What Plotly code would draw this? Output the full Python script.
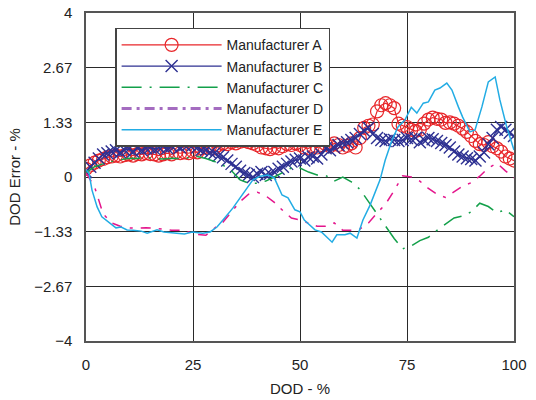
import plotly.graph_objects as go

# ---- data ----
x_ab = list(range(0, 101))
a_vals = [0.2,0.28,0.35,0.4,0.44,0.48,0.5,0.52,0.5,0.53,0.55,0.52,0.56,0.55,0.58,0.56,0.55,0.52,0.55,0.58,
          0.55,0.6,0.58,0.6,0.58,0.62,0.6,0.7,0.72,0.75,0.7,0.78,0.82,0.8,0.85,0.82,0.86,0.88,0.85,0.82,
          0.78,0.72,0.7,0.68,0.72,0.7,0.75,0.8,0.78,0.82,0.78,0.72,0.7,0.75,0.72,0.78,0.8,0.75,0.82,0.78,
          0.72,0.76,0.82,0.72,0.95,1.2,1.25,1.28,1.6,1.75,1.8,1.75,1.68,1.3,1.25,1.22,1.15,1.12,1.15,1.3,
          1.4,1.45,1.42,1.4,1.32,1.33,1.3,1.25,1.18,1.1,1.0,0.88,0.8,0.78,0.85,0.75,0.7,0.62,0.5,0.45,0.4]
b_vals = [0.12,0.25,0.35,0.45,0.55,0.58,0.62,0.65,0.6,0.66,0.68,0.62,0.7,0.65,0.7,0.72,0.68,0.72,0.75,0.7,
          0.75,0.78,0.72,0.78,0.8,0.78,0.72,0.66,0.65,0.6,0.58,0.52,0.48,0.4,0.32,0.25,0.15,0.1,0.05,0.0,
          0.08,0.12,0.05,0.08,0.12,0.2,0.25,0.32,0.38,0.42,0.45,0.4,0.48,0.5,0.45,0.55,0.7,0.65,0.72,0.78,
          0.82,0.85,0.9,0.95,1.05,1.12,1.2,1.05,0.95,0.9,0.88,0.92,0.9,0.88,0.9,0.95,0.92,0.95,0.85,0.9,
          0.95,0.92,0.88,0.83,0.78,0.72,0.62,0.55,0.5,0.46,0.44,0.4,0.5,0.6,0.8,0.95,1.15,1.22,1.15,1.08,1.0]

x_cd = list(range(0, 101, 2))
c_vals = [0.1,0.25,0.32,0.38,0.42,0.46,0.45,0.48,0.45,0.44,0.46,0.45,0.47,0.5,0.45,0.38,0.29,0.15,-0.07,-0.15,
          -0.15,-0.1,0.0,0.12,0.22,0.22,0.12,0.05,0.04,-0.1,0.0,-0.12,-0.3,-0.6,-0.9,-1.2,-1.5,-1.75,-1.68,-1.55,
          -1.47,-1.3,-1.15,-1.0,-0.95,-0.85,-0.64,-0.72,-0.87,-0.8,-0.97]
d_vals = [0.1,-0.24,-0.9,-1.12,-1.2,-1.24,-1.25,-1.24,-1.25,-1.27,-1.3,-1.3,-1.34,-1.4,-1.42,-1.25,-1.1,-0.85,-0.6,-0.42,
          -0.37,-0.46,-0.62,-0.82,-1.0,-1.05,-1.12,-1.2,-1.2,-1.12,-1.3,-1.3,-1.27,-1.12,-0.88,-0.66,-0.33,0.03,0.0,-0.1,
          -0.28,-0.42,-0.5,-0.35,-0.22,-0.14,0.02,0.22,0.34,0.15,-0.02]

x_e = [0,0.7,1.4,2.6,3.7,5.4,7,8.2,9.6,11,12.9,14.3,16.6,18.2,20.6,23,24.8,27.3,29,30.6,
       32,34.3,36,37.6,39,40.7,42.5,44,45.8,47.2,48.8,50,51,53.5,55,57.5,58.6,60.5,61.7,63.3,
       64.7,66.4,67.5,68.7,69.9,71.5,72.9,74.5,76,77.3,78.8,80,81.5,82.7,84.3,85.5,87,88,89.7,90.9,
       92.5,94,95.6,96.7,98.3,100]
e_vals = [0.17,0.1,-0.32,-0.73,-0.97,-1.12,-1.24,-1.22,-1.29,-1.3,-1.32,-1.37,-1.29,-1.34,-1.37,-1.39,-1.34,-1.37,-1.34,-1.22,
          -1.05,-0.76,-0.51,-0.27,-0.07,0.02,0.05,-0.02,-0.44,-0.51,-0.8,-0.85,-1.05,-1.29,-1.34,-1.59,-1.41,-1.41,-1.37,-1.49,
          -1.05,-0.68,-0.39,-0.07,0.41,0.9,1.22,1.39,1.7,1.56,1.8,1.83,2.12,2.17,2.29,2.12,1.71,1.46,1.1,1.15,
          1.71,2.32,2.44,1.88,1.22,0.66]

y_tickvals = [-4, -2.6667, -1.3333, 0, 1.3333, 2.6667, 4]
y_ticktext = ["\u22124", "\u22122.67", "\u22121.33", "0", "1.33", "2.67", "4"]
x_tickvals = [0, 25, 50, 75, 100]

RED = "#e8262a"
NAVY = "#2e3192"
GREEN = "#13a04a"
MAGENTA = "#e4158c"
PURPLE = "#a46cc0"
CYAN = "#22ace4"

fig = go.Figure()
fig.add_trace(go.Scatter(x=x_ab, y=a_vals, mode="lines+markers", name="Manufacturer A",
                         line=dict(color=RED, width=1.2),
                         marker=dict(symbol="circle-open", size=13, color=RED, line=dict(width=1.2))))
fig.add_trace(go.Scatter(x=x_ab, y=b_vals, mode="lines+markers", name="Manufacturer B",
                         line=dict(color=NAVY, width=1.2),
                         marker=dict(symbol="x-thin-open", size=12, color=NAVY, line=dict(width=1.4, color=NAVY))))
fig.add_trace(go.Scatter(x=x_cd, y=c_vals, mode="lines", name="Manufacturer C",
                         line=dict(color=GREEN, width=1.5, dash="20px,8px,2px,8px")))
fig.add_trace(go.Scatter(x=x_cd, y=d_vals, mode="lines", name="Manufacturer D", showlegend=False,
                         line=dict(color=MAGENTA, width=1.5, dash="10px,8px,3px,8px")))
fig.add_trace(go.Scatter(x=[None], y=[None], mode="lines", name="Manufacturer D",
                         line=dict(color=PURPLE, width=3, dash="10px,5px,3px,5px")))
fig.add_trace(go.Scatter(x=x_e, y=e_vals, mode="lines", name="Manufacturer E",
                         line=dict(color=CYAN, width=1.5)))

axis_common = dict(showgrid=True, gridcolor="#2a2a2a", gridwidth=1.2, showline=True,
                   linecolor="#555555", linewidth=1.5, mirror=True, zeroline=False,
                   ticks="outside", ticklen=9, tickcolor="rgba(0,0,0,0)", automargin=False,
                   tickfont=dict(size=15, color="#222222"))
fig.update_xaxes(range=[0, 100], tickvals=x_tickvals,
                 title=dict(text="DOD - %", font=dict(size=15, color="#222222"), standoff=12),
                 **axis_common)
fig.update_yaxes(range=[-4, 4], tickvals=y_tickvals, ticktext=y_ticktext,
                 title=dict(text="DOD Error - %", font=dict(size=15, color="#222222"), standoff=10),
                 **axis_common)

fig.update_layout(
    width=536, height=400,
    margin=dict(l=86, r=22, t=13, b=59),
    paper_bgcolor="white", plot_bgcolor="white",
    font=dict(family="Liberation Sans, Arial, sans-serif", color="#222222"),
    legend=dict(x=0.068, y=0.955, xanchor="left", yanchor="top",
                bgcolor="white", bordercolor="#444444", borderwidth=1.5,
                font=dict(size=14, color="#222222"), itemwidth=100,
                tracegroupgap=0),
)

fig.write_html("out.html")
